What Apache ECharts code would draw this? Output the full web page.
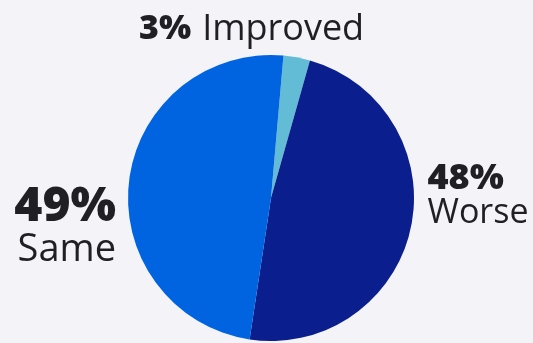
<!DOCTYPE html>
<html>
<head>
<meta charset="utf-8">
<script src="https://cdn.jsdelivr.net/npm/echarts@6/dist/echarts.min.js"></script>
<style>
  html, body { margin: 0; padding: 0; background: #f3f3f8; }
  #chart { width: 533px; height: 343px; }
</style>
</head>
<body>
<div id="chart"></div>
<script>
// Share of respondents by outcome
const categories = ['Improved', 'Worse', 'Same'];
const values = [3, 48, 49];
const colors = ['#62bcd6', '#0a1e8d', '#0064e1'];

const FONT = '"Open Sans"';
const TEXT = '#1f1f24';

// Per-slice label typography and nudges away from the default outside spot
const labelStyles = {
  Improved: {
    formatter: p => `{v|${p.value}%}{gap|}{n|${p.name}}`,
    rich: {
      v: { fontFamily: FONT, fontWeight: 800, fontSize: 34, color: TEXT },
      gap: { width: 11 },
      n: { fontFamily: FONT, fontSize: 36, color: TEXT }
    },
    shift: [-165, -16]
  },
  Worse: {
    formatter: p => `{v|${p.value}%}\n{n|${p.name}}`,
    rich: {
      v: { fontFamily: FONT, fontWeight: 800, fontSize: 36, lineHeight: 36, color: TEXT, align: 'left' },
      n: { fontFamily: FONT, fontSize: 34, lineHeight: 34, color: TEXT, align: 'left' }
    },
    shift: [0, -35]
  },
  Same: {
    formatter: p => `{v|${p.value}%}\n{n|${p.name}}`,
    rich: {
      v: { fontFamily: FONT, fontWeight: 800, fontSize: 48, lineHeight: 46, color: TEXT, align: 'right' },
      n: { fontFamily: FONT, fontSize: 38, lineHeight: 40, color: TEXT, align: 'right' }
    },
    shift: [4, 48]
  }
};

const data = categories.map((name, i) => ({
  name,
  value: values[i],
  itemStyle: { color: colors[i] },
  label: {
    formatter: labelStyles[name].formatter,
    rich: labelStyles[name].rich
  }
}));

const chart = echarts.init(document.getElementById('chart'), null, { renderer: 'canvas' });
chart.setOption({
  backgroundColor: '#f3f3f8',
  animation: false,
  series: [{
    type: 'pie',
    center: [271, 198],
    radius: [0, 143],
    startAngle: 85,
    clockwise: true,
    avoidLabelOverlap: false,
    itemStyle: { borderWidth: 0 },
    label: {
      show: true,
      position: 'outside',
      alignTo: 'none'
    },
    labelLine: { show: false, length: 12, length2: 0 },
    labelLayout: function (p) {
      const s = labelStyles[categories[p.dataIndex]].shift;
      return { dx: s[0], dy: s[1] };
    },
    data
  }]
});
</script>
</body>
</html>
